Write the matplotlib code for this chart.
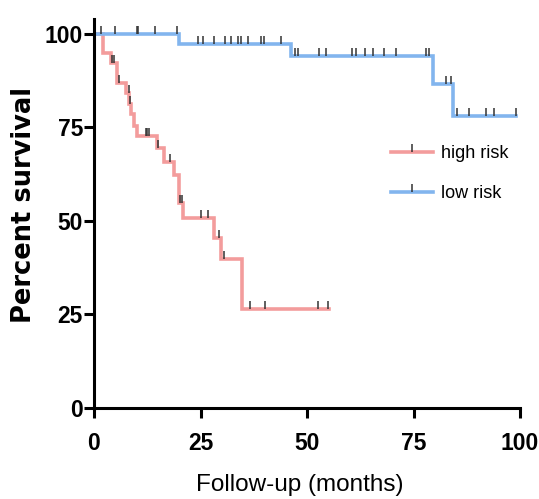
import numpy as np
import matplotlib
matplotlib.use("Agg")
import matplotlib.pyplot as plt
from matplotlib import font_manager as fm
from matplotlib.path import Path
from matplotlib.lines import Line2D

# ---------------- data ----------------
high_times = [0, 2.2, 3.9, 5.3, 7.4, 8.3, 8.6, 9.4, 10.0, 14.9, 16.5, 18.8, 20.0, 21.0, 28.1, 29.8, 34.7, 55.1]
high_surv = [100, 94.8, 92.2, 86.8, 84.1, 81.2, 78.5, 75.5, 72.6, 69.4, 65.9, 62.3, 54.7, 50.7, 45.4, 39.8, 26.6, 26.6]
high_censor = [4.3, 4.7, 5.9, 8.1, 8.45, 12.2, 12.5, 12.9, 15.1, 17.9, 20.2, 20.7,
               25.1, 26.7, 29.3, 30.6, 36.6, 40.2, 52.6, 54.9]

low_times = [0, 20.0, 46.3, 79.6, 84.3, 99.1]
low_surv = [100, 97.4, 94.2, 86.6, 78.0, 78.0]
low_censor = [1.6, 4.9, 10.0, 10.4, 14.4, 19.5,
              24.5, 25.5, 28.2, 30.8, 32.2, 33.9, 34.4, 36.1, 39.1, 40.0, 43.8,
              47.1, 47.8, 52.9, 54.5, 60.6, 61.4, 63.5, 65.5, 68.1, 70.8, 78.0, 78.7,
              82.7, 83.9, 85.3, 88.1, 92.0, 94.0, 99.1]

group_labels = ["high risk", "low risk"]
x_ticks = [0, 25, 50, 75, 100]
y_ticks = [0, 25, 50, 75, 100]
x_label = "Follow-up (months)"
y_label = "Percent survival"

# ---------------- style ----------------
RED = "#F39C9C"
BLUE = "#82B5EE"
TICKC = "#333333"

names = {f.name for f in fm.fontManager.ttflist}
NARROW = "Liberation Sans Narrow" if "Liberation Sans Narrow" in names else "Liberation Sans"
plt.rcParams["font.family"] = ["Liberation Sans", "DejaVu Sans"]

W, H = 539, 499
fig = plt.figure(figsize=(W / 100, H / 100), dpi=100)
x0, x1 = 94, 520
y0, ytop = 408, 19
ax = fig.add_axes([x0 / W, 1 - y0 / H, (x1 - x0) / W, (y0 - ytop) / H])
ax.set_xlim(0, 100)
ax.set_ylim(0, 104)

up_tick = Path([(0, 0), (0, 1)])


def censor_levels(times, surv, ct):
    idx = np.searchsorted(np.asarray(times), np.asarray(ct), side="right") - 1
    return np.asarray(surv)[idx]


for times, surv, cens, col in [(high_times, high_surv, high_censor, RED),
                               (low_times, low_surv, low_censor, BLUE)]:
    ax.step(times, surv, where="post", color=col, lw=2.6, solid_joinstyle="miter", zorder=2)
    ax.plot(cens, censor_levels(times, surv, cens), ls="none", marker=up_tick,
            markersize=11.5, markeredgewidth=1.1, markeredgecolor=TICKC, zorder=3)

for s in ["top", "right"]:
    ax.spines[s].set_visible(False)
for s in ["left", "bottom"]:
    ax.spines[s].set_linewidth(2.2)

ax.set_xticks(x_ticks)
ax.set_yticks(y_ticks)
ax.tick_params(width=2.2, length=7.5, direction="out")
ax.tick_params(axis="x", pad=10)
ax.tick_params(axis="y", pad=0.5)
for lab in ax.get_xticklabels() + ax.get_yticklabels():
    lab.set_fontfamily(NARROW)
    lab.set_fontweight("bold")
    lab.set_fontsize(16.5)

ax.set_xlabel(x_label, fontsize=17.5, fontfamily="Liberation Sans")
ax.set_ylabel(y_label, fontsize=18.5, fontweight="bold", fontfamily="DejaVu Sans")
ax.xaxis.set_label_coords((300 - x0) / (x1 - x0), -(485 - y0) / (y0 - ytop))
ax.xaxis.label.set_verticalalignment("center")
ax.yaxis.set_label_coords(-(x0 - 24) / (x1 - x0), (y0 - 205) / (y0 - ytop))
ax.yaxis.label.set_verticalalignment("center")

handles = [Line2D([0], [0], color=RED, lw=2.6, marker=up_tick, markersize=11.5,
                  markeredgewidth=1.1, markeredgecolor=TICKC),
           Line2D([0], [0], color=BLUE, lw=2.6, marker=up_tick, markersize=11.5,
                  markeredgewidth=1.1, markeredgecolor=TICKC)]
ax.legend(handles, group_labels, loc="upper left", bbox_to_anchor=(391 / W, 1 - 145 / H),
          bbox_transform=fig.transFigure, frameon=False, fontsize=13, borderpad=0,
          borderaxespad=0, handlelength=2.3, handletextpad=0.45, labelspacing=1.3,
          markerscale=1.0)

fig.savefig("out.png", dpi=100)
